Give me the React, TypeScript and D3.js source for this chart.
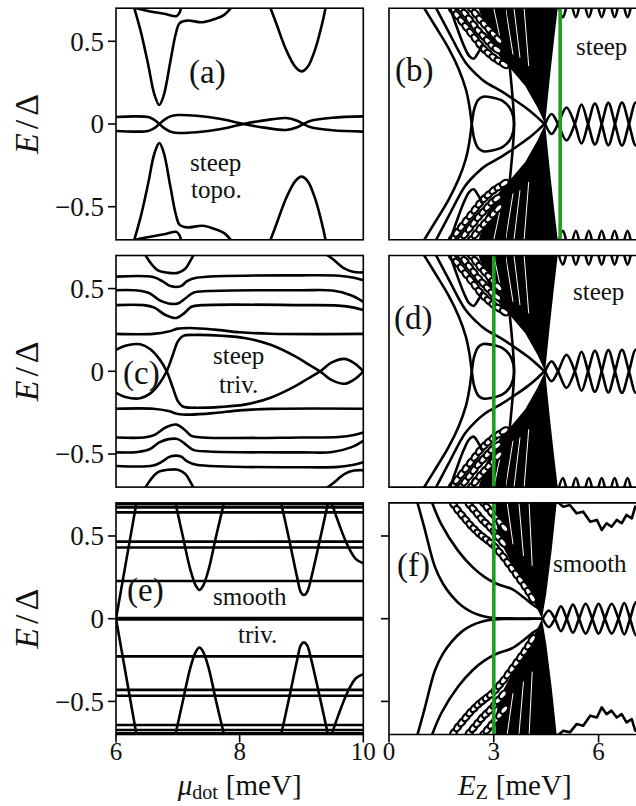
import React from "react";
import * as d3 from "d3";

type Pt = [number, number];

// ---------- left column: sweeps of μ_dot [meV], energies in units of Δ ----------
// (a) steep, topological
const A_ZERO: Pt[] = [[6.0,0.042],[6.3,0.046],[6.52,0.042],[6.62,0.025],[6.7,0],[6.78,-0.025],[6.88,-0.046],[7.0,-0.054],[7.3,-0.05],[7.7,-0.03],[8.06,0],[8.4,0.022],[8.75,0.036],[8.93,0.02],[9.03,0],[9.15,-0.02],[9.5,-0.038],[10,-0.046]];
const A_DIP1: Pt[] = [[6.28,0.72],[6.4,0.56],[6.52,0.36],[6.62,0.18],[6.7,0.115],[6.77,0.17],[6.88,0.38],[6.97,0.55],[7.03,0.61],[7.15,0.625],[7.4,0.615],[7.6,0.635],[7.75,0.66],[7.9,0.72]];
const A_TOP: Pt[] = [[6.2,0.71],[6.5,0.685],[6.8,0.665],[6.98,0.652],[7.03,0.675],[7.06,0.72]];
const A_DIP2: Pt[] = [[8.48,0.72],[8.6,0.6],[8.75,0.45],[8.9,0.345],[9.0,0.318],[9.1,0.345],[9.22,0.45],[9.33,0.6],[9.4,0.72]];

// (c) steep, trivial
const C_LOOP: Pt[] = [[6.0,0.13],[6.15,0.155],[6.39,0.163],[6.55,0.135],[6.7,0.075],[6.82,0],[6.92,-0.1],[7.0,-0.18],[7.08,-0.213],[7.3,-0.22],[7.7,-0.215],[8.1,-0.2],[8.5,-0.16],[8.9,-0.09],[9.1,-0.045],[9.3,0],[9.5,0.055],[9.7,0.075],[9.87,0.045],[10,0]];
const C_L1: Pt[] = [[6.0,0.226],[6.6,0.226],[6.85,0.24],[7.0,0.258],[7.2,0.262],[7.6,0.252],[8.0,0.236],[8.5,0.227],[10,0.226]];
const C_L2: Pt[] = [[6.0,0.4],[6.45,0.4],[6.62,0.385],[6.8,0.34],[6.97,0.322],[7.1,0.35],[7.22,0.39],[7.4,0.4],[9.0,0.4],[9.6,0.397],[9.85,0.385],[10,0.37]];
const C_L3: Pt[] = [[6.0,0.49],[6.35,0.488],[6.55,0.47],[6.7,0.43],[6.85,0.41],[7.0,0.41],[7.12,0.44],[7.25,0.475],[7.5,0.485],[9.0,0.49],[9.5,0.488],[9.8,0.46],[10,0.42]];
const C_L4: Pt[] = [[6.0,0.572],[6.6,0.57],[6.75,0.545],[6.88,0.515],[7.05,0.515],[7.15,0.545],[7.3,0.565],[9.0,0.58],[9.6,0.578],[9.85,0.565],[10,0.55]];
const C_L5: Pt[] = [[6.45,0.72],[6.55,0.66],[6.68,0.61],[6.85,0.595],[7.0,0.595],[7.12,0.62],[7.22,0.68],[7.28,0.72]];
const C_L6: Pt[] = [[9.35,0.72],[9.5,0.68],[9.7,0.62],[9.85,0.6],[10,0.598]];

// (e) smooth, trivial
const E_FLAT: number[] = [0.228, 0.43, 0.466, 0.643, 0.673, 0.692];
const E_ZERO: number[] = [0.004, -0.004];
const E_V1: Pt[] = [[6.0,0.0],[6.17,0.36],[6.34,0.72]];
const E_V2: Pt[] = [[6.95,0.72],[7.08,0.5],[7.2,0.3],[7.29,0.2],[7.35,0.174],[7.41,0.2],[7.5,0.3],[7.62,0.5],[7.76,0.72]];
const E_V3: Pt[] = [[8.66,0.72],[8.8,0.48],[8.93,0.25],[8.99,0.16],[9.04,0.143],[9.09,0.16],[9.16,0.25],[9.3,0.48],[9.44,0.72]];
const E_V4: Pt[] = [[9.47,0.72],[9.6,0.58],[9.75,0.44],[9.88,0.36],[10,0.335]];

// ---------- right column: sweeps of E_Z [meV] ----------
// steep potential (b, d)
const S_ABS1: Pt[] = [[0.95,0.72],[1.3,0.6],[1.7,0.46],[2.0,0.33],[2.2,0.21],[2.3,0.11],[2.37,0.0],[2.44,-0.09],[2.55,-0.145],[2.7,-0.165],[2.95,-0.16],[3.25,-0.14],[3.45,-0.1],[3.55,-0.05],[3.58,0.0],[3.56,0.1],[3.5,0.25],[3.42,0.42],[3.35,0.58],[3.3,0.72]];
const S_ABS2: Pt[] = [[1.3,0.72],[1.7,0.56],[2.18,0.375],[2.5,0.3],[2.75,0.255],[3.2,0.2],[3.6,0.145],[4.0,0.085],[4.25,0.04],[4.45,0.0]];
const S_ABS3: Pt[] = [[1.72,0.72],[1.95,0.58],[2.15,0.47],[2.3,0.41],[2.42,0.395],[2.55,0.43],[2.68,0.48]];
const S_BULK: Pt[] = [[2.5,0.75],[4.86,0.75],[4.83,0.7],[4.72,0.5],[4.6,0.27],[4.47,0.0],[4.25,0.1],[3.9,0.23],[3.5,0.33],[3.2,0.4],[3.0,0.45],[2.85,0.52],[2.7,0.6]];
const S_BEADS: Pt[][] = [
  [[1.82,0.69],[1.95,0.655],[2.08,0.62],[2.21,0.585],[2.34,0.55],[2.47,0.515],[2.6,0.48],[2.73,0.45],[2.86,0.425],[3.0,0.4],[3.15,0.38],[3.3,0.36]],
  [[2.05,0.7],[2.18,0.665],[2.31,0.63],[2.44,0.595],[2.57,0.56],[2.7,0.53],[2.83,0.5],[2.96,0.47],[3.09,0.45]],
  [[2.35,0.7],[2.48,0.665],[2.61,0.63],[2.74,0.6],[2.87,0.57],[3.0,0.54],[3.13,0.51]],
];
const S_STREAKS: Pt[][] = [
  [[2.95,0.75],[3.2,0.5]],
  [[3.3,0.75],[3.55,0.42]],
  [[3.55,0.75],[3.75,0.4]],
  [[3.85,0.75],[4.0,0.35]],
];
const S_MZM_CROSS: number[] = [4.47,4.84,5.32,5.70,6.09,6.47,6.87,7.26,7.65];
const S_MZM_AMP: number[] = [0.06,0.1,0.118,0.124,0.128,0.13,0.13,0.13];
const S_EDGE: Pt[] = [[4.8,0.76],[4.98,0.645],[5.16,0.76],[5.35,0.645],[5.53,0.76],[5.72,0.645],[5.9,0.76],[6.09,0.645],[6.27,0.76],[6.46,0.645],[6.64,0.76],[6.83,0.645],[7.01,0.76],[7.2,0.645],[7.38,0.76]];

// smooth potential (f)
const M_ABS1: Pt[] = [[0.79,0.72],[1.0,0.56],[1.32,0.31],[1.55,0.21],[1.79,0.14],[2.1,0.075],[2.37,0.04],[2.7,0.015],[3.0,0.004],[3.4,0.002],[4.0,0.001],[4.38,0]];
const M_ABS2: Pt[] = [[1.2,0.72],[1.5,0.57],[1.98,0.41],[2.4,0.31],[2.75,0.25],[3.1,0.21],[3.51,0.18],[3.85,0.13],[4.13,0.083],[4.3,0.06]];
const M_BULK: Pt[] = [[3.05,0.75],[4.83,0.75],[4.8,0.7],[4.66,0.42],[4.5,0.15],[4.38,0.0],[4.2,0.08],[3.95,0.17],[3.7,0.27],[3.45,0.36],[3.25,0.44],[3.12,0.52],[3.05,0.6]];
const M_BEADS: Pt[][] = [
  [[1.85,0.69],[1.97,0.655],[2.09,0.625],[2.21,0.595],[2.33,0.565],[2.45,0.54],[2.57,0.515],[2.69,0.495],[2.81,0.475],[2.93,0.455],[3.05,0.43],[3.17,0.4],[3.29,0.37],[3.41,0.335],[3.53,0.3],[3.65,0.265],[3.77,0.23],[3.89,0.195],[4.0,0.16],[4.1,0.125]],
  [[2.3,0.69],[2.42,0.66],[2.54,0.63],[2.66,0.6],[2.78,0.575],[2.9,0.55],[3.02,0.52],[3.14,0.49],[3.26,0.46]],
  [[2.7,0.7],[2.82,0.67],[2.94,0.64],[3.06,0.61],[3.18,0.58],[3.3,0.55]],
];
const M_STREAKS: Pt[][] = [
  [[3.35,0.75],[3.55,0.45]],
  [[3.7,0.75],[3.85,0.38]],
  [[4.0,0.75],[4.1,0.32]],
];
const M_MZM_CROSS: number[] = [4.4,4.75,5.09,5.44,5.82,6.18,6.57,6.9,7.25];
const M_MZM_AMP: number[] = [0.05,0.075,0.085,0.09,0.09,0.09,0.095,0.1];
const M_ZIG: Pt[] = [[4.8,0.71],[4.99,0.677],[5.18,0.687],[5.37,0.637],[5.56,0.647],[5.76,0.586],[5.95,0.597],[6.09,0.536],[6.23,0.577],[6.37,0.556],[6.52,0.597],[6.66,0.577],[6.8,0.627],[6.95,0.607],[7.05,0.677],[7.15,0.66]];

// vertical cuts marked in green
const GREEN_CUT: number[] = [4.9, 3.0, 3.0];

const Y_TICKS: number[] = [0.5, 0, -0.5];
const Y_TICK_LABELS: string[] = ["0.5", "0", "\u22120.5"];
const MU_TICKS: number[] = [6, 8, 10];
const EZ_TICKS: number[] = [0, 3, 6];

// ---------- layout ----------
const W = 636, H = 806;
const LX0 = 116, LX1 = 363.3;
const RX0 = 389, R_PER_MEV = 34.93, R_MAX = 7.8;
const ROW_TOP = [8.2, 255.5, 502.9];
const PH = 231.6;
const FONT = '"Liberation Serif", "DejaVu Serif", "Noto Serif", FreeSerif, "Times New Roman", Times, serif';
const LW = 2.6;

const flip = (pts: Pt[]): Pt[] => pts.map(([x, y]) => [x, -y] as Pt);

function lensTrack(cross: number[], amp: number[]): Pt[] {
  const pts: Pt[] = [];
  cross.forEach((c, i) => {
    pts.push([c, 0]);
    if (i < amp.length) pts.push([(c + cross[i + 1]) / 2, (i % 2 ? -1 : 1) * amp[i]]);
  });
  return pts;
}

type Scale = d3.ScaleLinear<number, number>;

function curvePath(x: Scale, y: Scale, pts: Pt[], curve: d3.CurveFactory = d3.curveCatmullRom.alpha(0.5)) {
  return d3.line<Pt>().x((d) => x(d[0])).y((d) => y(d[1])).curve(curve)(pts) || "";
}

function Beads({ x, y, pts, k }: { x: Scale; y: Scale; pts: Pt[]; k: string }) {
  return (
    <g>
      {pts.map((p, i) => {
        const a = pts[Math.max(0, i - 1)], b = pts[Math.min(pts.length - 1, i + 1)];
        const ang = (Math.atan2(y(b[1]) - y(a[1]), x(b[0]) - x(a[0])) * 180) / Math.PI;
        const cx = x(p[0]), cy = y(p[1]);
        return (
          <ellipse key={k + i} cx={cx} cy={cy} rx={4.9} ry={2.9} fill="#fff" stroke="#000" strokeWidth={2.2}
            transform={`rotate(${ang} ${cx} ${cy})`} />
        );
      })}
    </g>
  );
}

const textStyle = { fill: "#111", style: { fontFamily: FONT } };

function YLabel({ cy }: { cy: number }) {
  return (
    <text transform={`translate(38 ${cy}) rotate(-90)`} textAnchor="middle" fontSize={34} {...textStyle}>
      <tspan fontStyle="italic">E</tspan>
      <tspan dx={4}>/</tspan>
      <tspan dx={4}>Δ</tspan>
    </text>
  );
}

export default function App() {
  const xL = d3.scaleLinear().domain([6, 10]).range([LX0, LX1]);
  const xR = d3.scaleLinear().domain([0, R_MAX]).range([RX0, RX0 + R_MAX * R_PER_MEV]);
  const ys = ROW_TOP.map((t) => d3.scaleLinear().domain([-0.7, 0.7]).range([t + PH, t]));

  const stroke = { fill: "none", stroke: "#000", strokeWidth: LW, strokeLinejoin: "round" as const, strokeLinecap: "round" as const };

  const pair = (x: Scale, y: Scale, pts: Pt[], key: string, curve?: d3.CurveFactory) => [
    <path key={key + "+"} d={curvePath(x, y, pts, curve)} {...stroke} />,
    <path key={key + "-"} d={curvePath(x, y, flip(pts), curve)} {...stroke} />,
  ];

  // left column contents
  const panelA = (y: Scale) => [
    ...pair(xL, y, A_ZERO, "az"),
    ...pair(xL, y, A_DIP1, "ad1"),
    ...pair(xL, y, A_TOP, "at"),
    ...pair(xL, y, A_DIP2, "ad2"),
  ];
  const panelC = (y: Scale) => [
    ...pair(xL, y, C_LOOP, "cl"),
    ...pair(xL, y, C_L1, "c1"),
    ...pair(xL, y, C_L2, "c2"),
    ...pair(xL, y, C_L3, "c3"),
    ...pair(xL, y, C_L4, "c4"),
    ...pair(xL, y, C_L5, "c5"),
    ...pair(xL, y, C_L6, "c6"),
  ];
  const panelE = (y: Scale) => [
    ...E_FLAT.flatMap((v, i) => [
      <line key={"ef+" + i} x1={xL(6)} x2={xL(10)} y1={y(v)} y2={y(v)} {...stroke} />,
      <line key={"ef-" + i} x1={xL(6)} x2={xL(10)} y1={y(-v)} y2={y(-v)} {...stroke} />,
    ]),
    ...E_ZERO.map((v, i) => <line key={"ez" + i} x1={xL(6)} x2={xL(10)} y1={y(v)} y2={y(v)} {...stroke} />),
    ...pair(xL, y, E_V1, "ev1", d3.curveLinear),
    ...pair(xL, y, E_V2, "ev2"),
    ...pair(xL, y, E_V3, "ev3"),
    ...pair(xL, y, E_V4, "ev4"),
  ];

  const bulk = (y: Scale, poly: Pt[], beads: Pt[][], streaks: Pt[][], k: string) => [
    <path key={k + "bulk+"} d={curvePath(xR, y, poly, d3.curveLinearClosed)} fill="#000" />,
    <path key={k + "bulk-"} d={curvePath(xR, y, flip(poly), d3.curveLinearClosed)} fill="#000" />,
    ...streaks.flatMap((s, i) => [
      <path key={k + "st+" + i} d={curvePath(xR, y, s, d3.curveLinear)} stroke="#fff" strokeWidth={1} fill="none" />,
      <path key={k + "st-" + i} d={curvePath(xR, y, flip(s), d3.curveLinear)} stroke="#fff" strokeWidth={1} fill="none" />,
    ]),
    ...beads.flatMap((row, i) => [
      <Beads key={k + "bd+" + i} x={xR} y={y} pts={row} k={k + "bd+" + i} />,
      <Beads key={k + "bd-" + i} x={xR} y={y} pts={flip(row)} k={k + "bd-" + i} />,
    ]),
  ];

  // right column contents
  const steep = (y: Scale, k: string) => [
    ...bulk(y, S_BULK, S_BEADS, S_STREAKS, k),
    ...pair(xR, y, S_ABS1, k + "s1"),
    ...pair(xR, y, S_ABS2, k + "s2"),
    ...pair(xR, y, S_ABS3, k + "s3"),
    ...pair(xR, y, lensTrack(S_MZM_CROSS, S_MZM_AMP), k + "mz"),
    ...pair(xR, y, S_EDGE, k + "ed"),
  ];
  const smooth = (y: Scale, k: string) => [
    ...bulk(y, M_BULK, M_BEADS, M_STREAKS, k),
    ...pair(xR, y, M_ABS1, k + "m1"),
    ...pair(xR, y, M_ABS2, k + "m2"),
    ...pair(xR, y, lensTrack(M_MZM_CROSS, M_MZM_AMP), k + "mz"),
    ...pair(xR, y, M_ZIG, k + "zg", d3.curveLinear),
  ];

  const leftContents = [panelA, panelC, panelE];
  const rightContents = [(y: Scale) => steep(y, "b"), (y: Scale) => steep(y, "d"), (y: Scale) => smooth(y, "f")];
  const leftLetters = ["(a)", "(c)", "(e)"];
  const rightLetters = ["(b)", "(d)", "(f)"];
  const leftLetterPos: Pt[] = [[189, 83], [123, 384], [127, 601]];
  const rightLetterPos: Pt[] = [[395, 81], [394, 329], [397, 576]];

  return (
    <svg width={W} height={H} viewBox={`0 0 ${W} ${H}`} style={{ position: "absolute", left: 0, top: 0, background: "#fff" }}>
      <defs>
        {ROW_TOP.map((t, i) => (
          <React.Fragment key={"clip" + i}>
            <clipPath id={`clipL${i}`}>
              <rect x={LX0} y={t} width={LX1 - LX0} height={PH} />
            </clipPath>
            <clipPath id={`clipR${i}`}>
              <rect x={RX0} y={t} width={W - RX0 + 40} height={PH} />
            </clipPath>
          </React.Fragment>
        ))}
      </defs>
      <rect x={0} y={0} width={W} height={H} fill="#fff" />

      {ROW_TOP.map((t, i) => {
        const y = ys[i];
        return (
          <g key={"row" + i}>
            {/* left panel */}
            <g clipPath={`url(#clipL${i})`}>{leftContents[i](y)}</g>
            <rect x={LX0} y={t} width={LX1 - LX0} height={PH} fill="none" stroke="#000" strokeWidth={1.6} />
            {Y_TICKS.map((v, j) => (
              <g key={"yt" + j}>
                <line x1={LX0 - 8} x2={LX0} y1={y(v)} y2={y(v)} stroke="#000" strokeWidth={1.6} />
                <text x={LX0 - 12} y={y(v)} dy="0.35em" textAnchor="end" fontSize={27} {...textStyle}>
                  {Y_TICK_LABELS[j]}
                </text>
              </g>
            ))}
            <YLabel cy={t + PH / 2} />
            <text x={leftLetterPos[i][0]} y={leftLetterPos[i][1]} fontSize={33} {...textStyle}>{leftLetters[i]}</text>

            {/* right panel */}
            <g clipPath={`url(#clipR${i})`}>
              {rightContents[i](y)}
              <line x1={xR(GREEN_CUT[i])} x2={xR(GREEN_CUT[i])} y1={t} y2={t + PH} stroke="#1e9e1e" strokeWidth={3.6} />
            </g>
            <path d={`M${W + 10},${t}H${RX0}V${t + PH}H${W + 10}`} fill="none" stroke="#000" strokeWidth={1.6} />
            <text x={rightLetterPos[i][0]} y={rightLetterPos[i][1]} fontSize={33} {...textStyle}>{rightLetters[i]}</text>
            {i === 2 &&
              Y_TICKS.map((v, j) => (
                <line key={"ryt" + j} x1={RX0 - 8} x2={RX0} y1={y(v)} y2={y(v)} stroke="#000" strokeWidth={1.6} />
              ))}
          </g>
        );
      })}

      {/* panel captions */}
      <text x={190} y={171} fontSize={25} {...textStyle}>steep</text>
      <text x={191} y={198} fontSize={25} {...textStyle}>topo.</text>
      <text x={213} y={364} fontSize={25} {...textStyle}>steep</text>
      <text x={219} y={393} fontSize={25} {...textStyle}>triv.</text>
      <text x={213} y={605} fontSize={25} {...textStyle}>smooth</text>
      <text x={238} y={643} fontSize={25} {...textStyle}>triv.</text>
      <text x={576} y={55} fontSize={25} {...textStyle}>steep</text>
      <text x={573} y={300} fontSize={25} {...textStyle}>steep</text>
      <text x={553} y={572} fontSize={25} {...textStyle}>smooth</text>

      {/* bottom axes */}
      {MU_TICKS.map((v) => (
        <g key={"mt" + v}>
          <line x1={xL(v)} x2={xL(v)} y1={ROW_TOP[2] + PH} y2={ROW_TOP[2] + PH + 8} stroke="#000" strokeWidth={1.6} />
          <text x={xL(v)} y={ROW_TOP[2] + PH + 25} textAnchor="middle" fontSize={25} {...textStyle}>{v}</text>
        </g>
      ))}
      {EZ_TICKS.map((v) => (
        <g key={"et" + v}>
          <line x1={xR(v)} x2={xR(v)} y1={ROW_TOP[2] + PH} y2={ROW_TOP[2] + PH + 8} stroke="#000" strokeWidth={1.6} />
          <text x={xR(v)} y={ROW_TOP[2] + PH + 25} textAnchor="middle" fontSize={25} {...textStyle}>{v}</text>
        </g>
      ))}
      <text x={(LX0 + LX1) / 2} y={795} textAnchor="middle" fontSize={29} {...textStyle}>
        <tspan fontStyle="italic">μ</tspan>
        <tspan fontSize={20} dy={4}>dot</tspan>
        <tspan dy={-4} dx={8}>[meV]</tspan>
      </text>
      <text x={xR(3.6)} y={795} textAnchor="middle" fontSize={29} {...textStyle}>
        <tspan fontStyle="italic">E</tspan>
        <tspan fontSize={20} dy={4}>Z</tspan>
        <tspan dy={-4} dx={8}>[meV]</tspan>
      </text>
    </svg>
  );
}
